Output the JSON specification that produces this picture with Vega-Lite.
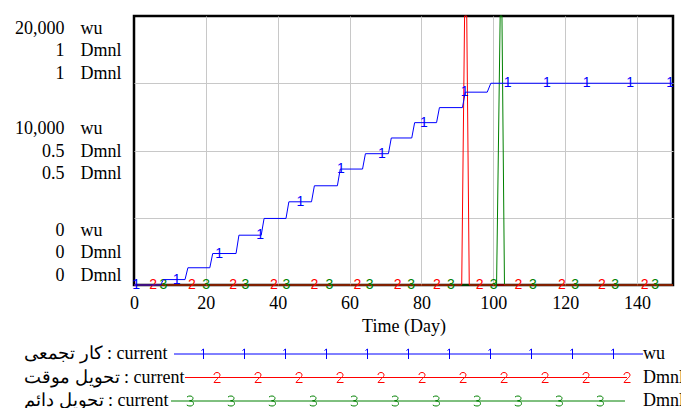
{
  "$schema": "https://vega.github.io/schema/vega-lite/v6.json",
  "width": 539,
  "height": 269,
  "autosize": {"type": "none"},
  "padding": {"left": 134, "top": 16, "right": 8, "bottom": 123},
  "background": "white",
  "params": [
    {"name": "symB", "value": "M-233,0L236,0M-205.5,-3.5l2,-1.5l0,10M-164.5,-3.5l2,-1.5l0,10M-123.5,-3.5l2,-1.5l0,10M-82.5,-3.5l2,-1.5l0,10M-41.5,-3.5l2,-1.5l0,10M-0.5,-3.5l2,-1.5l0,10M40.5,-3.5l2,-1.5l0,10M81.5,-3.5l2,-1.5l0,10M122.5,-3.5l2,-1.5l0,10M163.5,-3.5l2,-1.5l0,10M204.5,-3.5l2,-1.5l0,10"},
    {"name": "symR", "value": "M-222,0L220,0M-193,-2.5c0,-1.5 1.3,-2.5 3,-2.5c1.7,0 3,1 3,2.5c0,2 -3,3.5 -6,7.5l6.5,0M-152,-2.5c0,-1.5 1.3,-2.5 3,-2.5c1.7,0 3,1 3,2.5c0,2 -3,3.5 -6,7.5l6.5,0M-111,-2.5c0,-1.5 1.3,-2.5 3,-2.5c1.7,0 3,1 3,2.5c0,2 -3,3.5 -6,7.5l6.5,0M-70,-2.5c0,-1.5 1.3,-2.5 3,-2.5c1.7,0 3,1 3,2.5c0,2 -3,3.5 -6,7.5l6.5,0M-29,-2.5c0,-1.5 1.3,-2.5 3,-2.5c1.7,0 3,1 3,2.5c0,2 -3,3.5 -6,7.5l6.5,0M12,-2.5c0,-1.5 1.3,-2.5 3,-2.5c1.7,0 3,1 3,2.5c0,2 -3,3.5 -6,7.5l6.5,0M53,-2.5c0,-1.5 1.3,-2.5 3,-2.5c1.7,0 3,1 3,2.5c0,2 -3,3.5 -6,7.5l6.5,0M94,-2.5c0,-1.5 1.3,-2.5 3,-2.5c1.7,0 3,1 3,2.5c0,2 -3,3.5 -6,7.5l6.5,0M135,-2.5c0,-1.5 1.3,-2.5 3,-2.5c1.7,0 3,1 3,2.5c0,2 -3,3.5 -6,7.5l6.5,0M176,-2.5c0,-1.5 1.3,-2.5 3,-2.5c1.7,0 3,1 3,2.5c0,2 -3,3.5 -6,7.5l6.5,0M217,-2.5c0,-1.5 1.3,-2.5 3,-2.5c1.7,0 3,1 3,2.5c0,2 -3,3.5 -6,7.5l6.5,0"},
    {"name": "symG", "value": "M-236,0L218,0M-220,-4c1,-0.8 2,-1 3,-1c1.8,0 3,1 3,2.3c0,1.5 -1.5,2.5 -3.5,2.5c2.5,0 4,1.2 4,2.7c0,1.6 -1.5,2.5 -3.5,2.5c-1.2,0 -2.4,-0.3 -3.2,-1M-179,-4c1,-0.8 2,-1 3,-1c1.8,0 3,1 3,2.3c0,1.5 -1.5,2.5 -3.5,2.5c2.5,0 4,1.2 4,2.7c0,1.6 -1.5,2.5 -3.5,2.5c-1.2,0 -2.4,-0.3 -3.2,-1M-138,-4c1,-0.8 2,-1 3,-1c1.8,0 3,1 3,2.3c0,1.5 -1.5,2.5 -3.5,2.5c2.5,0 4,1.2 4,2.7c0,1.6 -1.5,2.5 -3.5,2.5c-1.2,0 -2.4,-0.3 -3.2,-1M-97,-4c1,-0.8 2,-1 3,-1c1.8,0 3,1 3,2.3c0,1.5 -1.5,2.5 -3.5,2.5c2.5,0 4,1.2 4,2.7c0,1.6 -1.5,2.5 -3.5,2.5c-1.2,0 -2.4,-0.3 -3.2,-1M-56,-4c1,-0.8 2,-1 3,-1c1.8,0 3,1 3,2.3c0,1.5 -1.5,2.5 -3.5,2.5c2.5,0 4,1.2 4,2.7c0,1.6 -1.5,2.5 -3.5,2.5c-1.2,0 -2.4,-0.3 -3.2,-1M-15,-4c1,-0.8 2,-1 3,-1c1.8,0 3,1 3,2.3c0,1.5 -1.5,2.5 -3.5,2.5c2.5,0 4,1.2 4,2.7c0,1.6 -1.5,2.5 -3.5,2.5c-1.2,0 -2.4,-0.3 -3.2,-1M26,-4c1,-0.8 2,-1 3,-1c1.8,0 3,1 3,2.3c0,1.5 -1.5,2.5 -3.5,2.5c2.5,0 4,1.2 4,2.7c0,1.6 -1.5,2.5 -3.5,2.5c-1.2,0 -2.4,-0.3 -3.2,-1M67,-4c1,-0.8 2,-1 3,-1c1.8,0 3,1 3,2.3c0,1.5 -1.5,2.5 -3.5,2.5c2.5,0 4,1.2 4,2.7c0,1.6 -1.5,2.5 -3.5,2.5c-1.2,0 -2.4,-0.3 -3.2,-1M108,-4c1,-0.8 2,-1 3,-1c1.8,0 3,1 3,2.3c0,1.5 -1.5,2.5 -3.5,2.5c2.5,0 4,1.2 4,2.7c0,1.6 -1.5,2.5 -3.5,2.5c-1.2,0 -2.4,-0.3 -3.2,-1M149,-4c1,-0.8 2,-1 3,-1c1.8,0 3,1 3,2.3c0,1.5 -1.5,2.5 -3.5,2.5c2.5,0 4,1.2 4,2.7c0,1.6 -1.5,2.5 -3.5,2.5c-1.2,0 -2.4,-0.3 -3.2,-1M190,-4c1,-0.8 2,-1 3,-1c1.8,0 3,1 3,2.3c0,1.5 -1.5,2.5 -3.5,2.5c2.5,0 4,1.2 4,2.7c0,1.6 -1.5,2.5 -3.5,2.5c-1.2,0 -2.4,-0.3 -3.2,-1"}
  ],
  "datasets": {
    "lines": [
      {"series": "کار تجمعی : current", "day": 0, "value": 0},
      {"series": "کار تجمعی : current", "day": 7.4, "value": 0},
      {"series": "کار تجمعی : current", "day": 8.2, "value": 402},
      {"series": "کار تجمعی : current", "day": 14.2, "value": 402},
      {"series": "کار تجمعی : current", "day": 15.0, "value": 1282},
      {"series": "کار تجمعی : current", "day": 21.1, "value": 1282},
      {"series": "کار تجمعی : current", "day": 21.9, "value": 2340},
      {"series": "کار تجمعی : current", "day": 28.4, "value": 2340},
      {"series": "کار تجمعی : current", "day": 29.2, "value": 3703},
      {"series": "کار تجمعی : current", "day": 35.4, "value": 3703},
      {"series": "کار تجمعی : current", "day": 36.2, "value": 4948},
      {"series": "کار تجمعی : current", "day": 42.3, "value": 4948},
      {"series": "کار تجمعی : current", "day": 43.1, "value": 6185},
      {"series": "کار تجمعی : current", "day": 49.4, "value": 6185},
      {"series": "کار تجمعی : current", "day": 50.2, "value": 7377},
      {"series": "کار تجمعی : current", "day": 56.6, "value": 7377},
      {"series": "کار تجمعی : current", "day": 57.4, "value": 8621},
      {"series": "کار تجمعی : current", "day": 63.6, "value": 8621},
      {"series": "کار تجمعی : current", "day": 64.4, "value": 9762},
      {"series": "کار تجمعی : current", "day": 70.8, "value": 9762},
      {"series": "کار تجمعی : current", "day": 71.6, "value": 10931},
      {"series": "کار تجمعی : current", "day": 77.3, "value": 10931},
      {"series": "کار تجمعی : current", "day": 78.1, "value": 12071},
      {"series": "کار تجمعی : current", "day": 84.2, "value": 12071},
      {"series": "کار تجمعی : current", "day": 85.0, "value": 13189},
      {"series": "کار تجمعی : current", "day": 91.4, "value": 13189},
      {"series": "کار تجمعی : current", "day": 92.2, "value": 14337},
      {"series": "کار تجمعی : current", "day": 98.3, "value": 14337},
      {"series": "کار تجمعی : current", "day": 99.3, "value": 15000},
      {"series": "کار تجمعی : current", "day": 150, "value": 15000},
      {"series": "تحویل موقت : current", "day": 0, "value": 0},
      {"series": "تحویل موقت : current", "day": 91.2, "value": 0},
      {"series": "تحویل موقت : current", "day": 92.0, "value": 1},
      {"series": "تحویل موقت : current", "day": 92.6, "value": 1},
      {"series": "تحویل موقت : current", "day": 93.3, "value": 0},
      {"series": "تحویل موقت : current", "day": 150, "value": 0},
      {"series": "تحویل دائم : current", "day": 0, "value": 0},
      {"series": "تحویل دائم : current", "day": 100.9, "value": 0},
      {"series": "تحویل دائم : current", "day": 101.9, "value": 1},
      {"series": "تحویل دائم : current", "day": 102.4, "value": 1},
      {"series": "تحویل دائم : current", "day": 103.1, "value": 0},
      {"series": "تحویل دائم : current", "day": 150, "value": 0}
    ],
    "markers": [
      {"series": "کار تجمعی : current", "marker": "1", "day": 0.6, "value": 0},
      {"series": "کار تجمعی : current", "marker": "1", "day": 11.9, "value": 402},
      {"series": "کار تجمعی : current", "marker": "1", "day": 23.7, "value": 2340},
      {"series": "کار تجمعی : current", "marker": "1", "day": 35.1, "value": 3703},
      {"series": "کار تجمعی : current", "marker": "1", "day": 46.3, "value": 6185},
      {"series": "کار تجمعی : current", "marker": "1", "day": 57.6, "value": 8621},
      {"series": "کار تجمعی : current", "marker": "1", "day": 69.0, "value": 9762},
      {"series": "کار تجمعی : current", "marker": "1", "day": 80.7, "value": 12071},
      {"series": "کار تجمعی : current", "marker": "1", "day": 92.0, "value": 14337},
      {"series": "کار تجمعی : current", "marker": "1", "day": 104.0, "value": 15000},
      {"series": "کار تجمعی : current", "marker": "1", "day": 114.9, "value": 15000},
      {"series": "کار تجمعی : current", "marker": "1", "day": 126.0, "value": 15000},
      {"series": "کار تجمعی : current", "marker": "1", "day": 138.1, "value": 15000},
      {"series": "کار تجمعی : current", "marker": "1", "day": 149.2, "value": 15000},
      {"series": "تحویل موقت : current", "marker": "2", "day": 5.3, "value": 0},
      {"series": "تحویل موقت : current", "marker": "2", "day": 16.1, "value": 0},
      {"series": "تحویل موقت : current", "marker": "2", "day": 27.6, "value": 0},
      {"series": "تحویل موقت : current", "marker": "2", "day": 38.9, "value": 0},
      {"series": "تحویل موقت : current", "marker": "2", "day": 50.2, "value": 0},
      {"series": "تحویل موقت : current", "marker": "2", "day": 62.2, "value": 0},
      {"series": "تحویل موقت : current", "marker": "2", "day": 73.4, "value": 0},
      {"series": "تحویل موقت : current", "marker": "2", "day": 84.3, "value": 0},
      {"series": "تحویل موقت : current", "marker": "2", "day": 96.2, "value": 0},
      {"series": "تحویل موقت : current", "marker": "2", "day": 107.0, "value": 0},
      {"series": "تحویل موقت : current", "marker": "2", "day": 119.1, "value": 0},
      {"series": "تحویل موقت : current", "marker": "2", "day": 130.2, "value": 0},
      {"series": "تحویل موقت : current", "marker": "2", "day": 142.1, "value": 0},
      {"series": "تحویل دائم : current", "marker": "3", "day": 8.2, "value": 0},
      {"series": "تحویل دائم : current", "marker": "3", "day": 20.1, "value": 0},
      {"series": "تحویل دائم : current", "marker": "3", "day": 31.0, "value": 0},
      {"series": "تحویل دائم : current", "marker": "3", "day": 42.4, "value": 0},
      {"series": "تحویل دائم : current", "marker": "3", "day": 54.4, "value": 0},
      {"series": "تحویل دائم : current", "marker": "3", "day": 65.6, "value": 0},
      {"series": "تحویل دائم : current", "marker": "3", "day": 77.1, "value": 0},
      {"series": "تحویل دائم : current", "marker": "3", "day": 88.2, "value": 0},
      {"series": "تحویل دائم : current", "marker": "3", "day": 100.1, "value": 0},
      {"series": "تحویل دائم : current", "marker": "3", "day": 111.0, "value": 0},
      {"series": "تحویل دائم : current", "marker": "3", "day": 122.8, "value": 0},
      {"series": "تحویل دائم : current", "marker": "3", "day": 133.9, "value": 0},
      {"series": "تحویل دائم : current", "marker": "3", "day": 145.0, "value": 0}
    ]
  },
  "config": {
    "view": {"stroke": "#000000", "strokeWidth": 2.5},
    "font": "Liberation Serif",
    "axis": {
      "labelFont": "Liberation Serif", "labelFontSize": 18, "labelColor": "#000000",
      "titleFont": "Liberation Serif", "titleFontSize": 18, "titleFontWeight": "normal", "titleColor": "#000000",
      "domain": false, "ticks": false, "tickSize": 0, "gridColor": "#c8c8c8", "gridWidth": 1, "labelOverlap": false
    },
    "legend": {"labelFont": "Liberation Serif", "labelFontSize": 18, "labelColor": "#000000", "labelLimit": 0, "padding": 0}
  },
  "resolve": {"scale": {"y": "independent"}},
  "layer": [
    {
      "data": {"name": "lines"},
      "transform": [{"filter": {"field": "series", "equal": "تحویل دائم : current"}}],
      "mark": {"type": "line", "strokeWidth": 1},
      "encoding": {
        "x": {"field": "day", "type": "quantitative", "scale": {"domain": [0, 150], "nice": false},
          "axis": {"values": [0, 10, 20, 30, 40, 50, 60, 70, 80, 90, 100, 110, 120, 130, 140, 150],
            "labelExpr": "datum.value % 20 == 0 ? datum.label : ''", "grid": true,
            "gridOpacity": {"condition": {"test": "datum.value == 0 || datum.value == 150", "value": 0}, "value": 1},
            "labelFlush": false, "labelPadding": 9, "title": "Time (Day)", "titlePadding": 5}},
        "y": {"field": "value", "type": "quantitative", "scale": {"domain": [0, 1], "nice": false}, "axis": null},
        "color": {"field": "series", "type": "nominal",
          "scale": {"domain": ["کار تجمعی : current", "تحویل موقت : current", "تحویل دائم : current"], "range": ["#0000ff", "#ff0000", "#008000"]},
          "legend": {"orient": "none", "legendX": 264, "legendY": 329, "direction": "vertical", "title": null,
            "rowPadding": 5.5, "symbolSize": 4, "symbolStrokeWidth": 1, "symbolType": "circle", "symbolFillColor": "transparent",
            "labelAlign": "left", "labelOffset": -392,
            "encode": {"symbols": {"update": {
              "shape": {"signal": "datum.index == 0 ? symB : datum.index == 1 ? symR : symG"},
              "size": {"value": 4},
              "fill": {"value": "transparent"},
              "fillOpacity": {"value": 0},
              "stroke": {"scale": "color", "field": "value"},
              "strokeWidth": {"value": 1},
              "opacity": {"value": 1}}}}}}
      }
    },
    {
      "data": {"name": "lines"},
      "transform": [{"filter": {"field": "series", "equal": "تحویل موقت : current"}}],
      "mark": {"type": "line", "strokeWidth": 1},
      "encoding": {
        "x": {"field": "day", "type": "quantitative"},
        "y": {"field": "value", "type": "quantitative", "scale": {"domain": [0, 1], "nice": false}, "axis": null},
        "color": {"field": "series", "type": "nominal",
          "legend": {"orient": "none", "legendX": 264, "legendY": 329, "direction": "vertical", "title": null,
            "rowPadding": 5.5, "symbolSize": 4, "symbolStrokeWidth": 1, "symbolType": "circle", "symbolFillColor": "transparent",
            "labelAlign": "left", "labelOffset": -392,
            "encode": {"symbols": {"update": {
              "shape": {"signal": "datum.index == 0 ? symB : datum.index == 1 ? symR : symG"},
              "size": {"value": 4},
              "fill": {"value": "transparent"},
              "fillOpacity": {"value": 0},
              "stroke": {"scale": "color", "field": "value"},
              "strokeWidth": {"value": 1},
              "opacity": {"value": 1}}}}}}
      }
    },
    {
      "data": {"name": "markers"},
      "transform": [{"filter": {"field": "series", "oneOf": ["تحویل موقت : current", "تحویل دائم : current"]}}],
      "mark": {"type": "text", "font": "Liberation Sans", "fontSize": 14, "baseline": "middle", "align": "center"},
      "encoding": {
        "x": {"field": "day", "type": "quantitative"},
        "y": {"field": "value", "type": "quantitative", "scale": {"domain": [0, 1], "nice": false}, "axis": null},
        "text": {"field": "marker"},
        "color": {"field": "series", "type": "nominal",
          "legend": {"orient": "none", "legendX": 264, "legendY": 329, "direction": "vertical", "title": null,
            "rowPadding": 5.5, "symbolSize": 4, "symbolStrokeWidth": 1, "symbolType": "circle", "symbolFillColor": "transparent",
            "labelAlign": "left", "labelOffset": -392,
            "encode": {"symbols": {"update": {
              "shape": {"signal": "datum.index == 0 ? symB : datum.index == 1 ? symR : symG"},
              "size": {"value": 4},
              "fill": {"value": "transparent"},
              "fillOpacity": {"value": 0},
              "stroke": {"scale": "color", "field": "value"},
              "strokeWidth": {"value": 1},
              "opacity": {"value": 1}}}}}},
        "opacity": {"field": "marker", "type": "ordinal", "scale": {"range": [1, 1, 1]},
          "legend": {"orient": "none", "legendX": 491, "legendY": 329, "direction": "vertical", "title": null,
            "rowPadding": 5.5, "symbolSize": 0, "symbolOpacity": 0, "labelOffset": 0,
            "labelExpr": "datum.label == '1' ? 'wu' : 'Dmnl'",
            "encode": {"symbols": {"update": {"opacity": {"value": 0}}},
                       "labels": {"update": {"dx": {"signal": "datum.index == 0 ? 6 : 0"}}}}}}
      }
    },
    {
      "data": {"name": "lines"},
      "transform": [{"filter": {"field": "series", "equal": "کار تجمعی : current"}}],
      "mark": {"type": "line", "strokeWidth": 1},
      "encoding": {
        "x": {"field": "day", "type": "quantitative"},
        "y": {"field": "value", "type": "quantitative", "scale": {"domain": [0, 20000], "nice": false},
          "axis": {"orient": "left", "values": [0, 5000, 10000, 15000, 20000], "grid": true,
            "gridOpacity": {"condition": {"test": "datum.value == 0 || datum.value == 20000", "value": 0}, "value": 1},
            "labelExpr": "datum.value % 10000 == 0 ? [format(datum.value, ','), format(datum.value / 20000, ''), format(datum.value / 20000, '')] : ''",
            "labelAlign": "right", "labelPadding": 70, "labelFlush": false, "labelBaseline": "middle",
            "labelOffset": {"condition": [{"test": "datum.value == 20000", "value": 12}, {"test": "datum.value == 10000", "value": -22}], "value": -55},
            "labelLineHeight": 22.7, "title": null}},
        "color": {"field": "series", "type": "nominal",
          "legend": {"orient": "none", "legendX": 264, "legendY": 329, "direction": "vertical", "title": null,
            "rowPadding": 5.5, "symbolSize": 4, "symbolStrokeWidth": 1, "symbolType": "circle", "symbolFillColor": "transparent",
            "labelAlign": "left", "labelOffset": -392,
            "encode": {"symbols": {"update": {
              "shape": {"signal": "datum.index == 0 ? symB : datum.index == 1 ? symR : symG"},
              "size": {"value": 4},
              "fill": {"value": "transparent"},
              "fillOpacity": {"value": 0},
              "stroke": {"scale": "color", "field": "value"},
              "strokeWidth": {"value": 1},
              "opacity": {"value": 1}}}}}}
      }
    },
    {
      "data": {"name": "markers"},
      "transform": [{"filter": {"field": "series", "equal": "کار تجمعی : current"}}],
      "mark": {"type": "text", "font": "Liberation Sans", "fontSize": 14, "baseline": "middle", "align": "center"},
      "encoding": {
        "x": {"field": "day", "type": "quantitative"},
        "y": {"field": "value", "type": "quantitative", "scale": {"domain": [0, 20000], "nice": false},
          "axis": {"orient": "left", "values": [0, 10000, 20000], "grid": false,
            "labelExpr": "['wu', 'Dmnl', 'Dmnl']",
            "labelAlign": "left", "labelPadding": 54, "labelFlush": false, "labelBaseline": "middle",
            "labelOffset": {"condition": [{"test": "datum.value == 20000", "value": 12}, {"test": "datum.value == 10000", "value": -22}], "value": -55},
            "labelLineHeight": 22.7, "title": null}},
        "text": {"field": "marker"},
        "color": {"field": "series", "type": "nominal",
          "legend": {"orient": "none", "legendX": 264, "legendY": 329, "direction": "vertical", "title": null,
            "rowPadding": 5.5, "symbolSize": 4, "symbolStrokeWidth": 1, "symbolType": "circle", "symbolFillColor": "transparent",
            "labelAlign": "left", "labelOffset": -392,
            "encode": {"symbols": {"update": {
              "shape": {"signal": "datum.index == 0 ? symB : datum.index == 1 ? symR : symG"},
              "size": {"value": 4},
              "fill": {"value": "transparent"},
              "fillOpacity": {"value": 0},
              "stroke": {"scale": "color", "field": "value"},
              "strokeWidth": {"value": 1},
              "opacity": {"value": 1}}}}}},
        "opacity": {"field": "marker", "type": "ordinal"}
      }
    }
  ]
}
